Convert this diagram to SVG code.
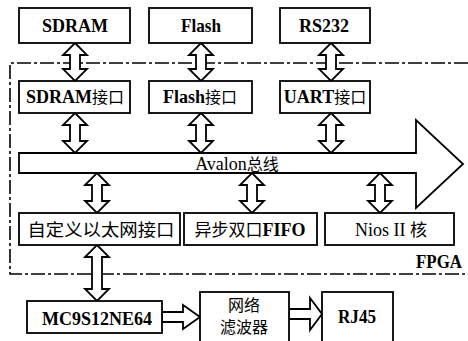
<svg xmlns="http://www.w3.org/2000/svg" width="468" height="341" viewBox="0 0 468 341">
<style>
.box{fill:#fff;stroke:#000;stroke-width:1.8}
.arr{fill:#fff;stroke:#000;stroke-width:1.8;stroke-linejoin:miter}
.dash{fill:none;stroke:#000;stroke-width:1.6;stroke-dasharray:14 3 3 3}
text{font-family:"Liberation Serif",serif;fill:#000;text-anchor:middle}
.t{font-size:19px;font-weight:bold}
.n{font-size:18px;font-weight:bold}
.a{font-size:18px;font-weight:normal}
.c{font-size:17px;font-weight:normal}
.k{font-family:"Noto Sans CJK SC",sans-serif;font-weight:normal}
</style>
<rect width="468" height="341" fill="#fff"/>
<g id="fpga">
<polyline class="dash" points="468,63 10,63 10,274 468,274"/>
<text class="t" x="439" y="268" textLength="46" lengthAdjust="spacingAndGlyphs">FPGA</text>
</g>
<g id="connectors">
<path class="arr" d="M75,43 L87,55 L80,55 L80,69 L87,69 L75,81 L63,69 L70,69 L70,55 L63,55 Z"/>
<path class="arr" d="M201,43 L213,55 L206,55 L206,69 L213,69 L201,81 L189,69 L196,69 L196,55 L189,55 Z"/>
<path class="arr" d="M331,43 L343,55 L336,55 L336,69 L343,69 L331,81 L319,69 L326,69 L326,55 L319,55 Z"/>
<path class="arr" d="M75,113 L87,125 L80,125 L80,141 L87,141 L75,153 L63,141 L70,141 L70,125 L63,125 Z"/>
<path class="arr" d="M201,113 L213,125 L206,125 L206,141 L213,141 L201,153 L189,141 L196,141 L196,125 L189,125 Z"/>
<path class="arr" d="M331,113 L343,125 L336,125 L336,141 L343,141 L331,153 L319,141 L326,141 L326,125 L319,125 Z"/>
<path class="arr" d="M97,173 L109,185 L102,185 L102,201 L109,201 L97,213 L85,201 L92,201 L92,185 L85,185 Z"/>
<path class="arr" d="M252,173 L264,185 L257,185 L257,201 L264,201 L252,213 L240,201 L247,201 L247,185 L240,185 Z"/>
<path class="arr" d="M380,173 L392,185 L385,185 L385,201 L392,201 L380,213 L368,201 L375,201 L375,185 L368,185 Z"/>
<path class="arr" d="M97,245 L109,257 L102,257 L102,289 L109,289 L97,301 L85,289 L92,289 L92,257 L85,257 Z"/>
<path class="arr" d="M162,312 L183,312 L183,305 L200,317 L183,329 L183,322 L162,322 Z"/>
<path class="arr" d="M289,309 L310,309 L310,298 L322,314 L310,330 L310,319 L289,319 Z"/>
</g>
<g id="avalon">
<path class="arr" d="M19,153 L416,153 L416,120 L463,164 L416,208 L416,173 L19,173 Z"/>
<text class="a" x="237" y="170"><tspan>Avalon</tspan><tspan class="k" font-size="16">总线</tspan></text>
</g>
<g id="sdram"><rect class="box" x="19" y="8" width="111" height="35"/><text class="t" x="75" y="32" textLength="66" lengthAdjust="spacingAndGlyphs">SDRAM</text></g>
<g id="flash"><rect class="box" x="149" y="8" width="103" height="35"/><text class="t" x="201" y="32" textLength="40" lengthAdjust="spacingAndGlyphs">Flash</text></g>
<g id="rs232"><rect class="box" x="280" y="8" width="90" height="35"/><text class="t" x="324" y="32" textLength="50" lengthAdjust="spacingAndGlyphs">RS232</text></g>
<g id="sdram_if"><rect class="box" x="19" y="81" width="111" height="32"/><text class="n" x="75" y="103"><tspan>SDRAM</tspan><tspan class="k" font-size="16">接口</tspan></text></g>
<g id="flash_if"><rect class="box" x="149" y="81" width="103" height="32"/><text class="n" x="200" y="103"><tspan>Flash</tspan><tspan class="k" font-size="16">接口</tspan></text></g>
<g id="uart_if"><rect class="box" x="280" y="81" width="90" height="32"/><text class="n" x="325" y="103"><tspan>UART</tspan><tspan class="k" font-size="16">接口</tspan></text></g>
<g id="eth_if"><rect class="box" x="19" y="213" width="161" height="32"/><text class="c k" x="101" y="236" textLength="147" lengthAdjust="spacingAndGlyphs">自定义以太网接口</text></g>
<g id="fifo"><rect class="box" x="184" y="213" width="133" height="32"/><text class="c" x="250" y="236"><tspan class="k">异步双口</tspan><tspan font-size="18" font-weight="bold">FIFO</tspan></text></g>
<g id="nios"><rect class="box" x="325" y="213" width="129" height="32"/><text class="c" x="391" y="236"><tspan font-size="18">Nios II </tspan><tspan class="k">核</tspan></text></g>
<g id="mcu"><rect class="box" x="27" y="301" width="135" height="32"/><text class="t" x="97" y="325" textLength="110" lengthAdjust="spacingAndGlyphs">MC9S12NE64</text></g>
<g id="filter"><rect class="box" x="200" y="292" width="89" height="56"/><text class="k" font-size="16" x="244" y="311">网络</text><text class="k" font-size="16" x="244" y="333">滤波器</text></g>
<g id="rj45"><rect class="box" x="322" y="292" width="71" height="56"/><text class="t" x="357" y="323" textLength="38" lengthAdjust="spacingAndGlyphs">RJ45</text></g>
</svg>
